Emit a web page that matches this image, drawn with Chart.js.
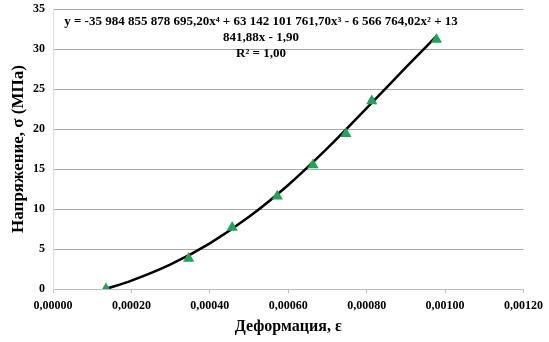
<!DOCTYPE html>
<html>
<head>
<meta charset="utf-8">
<script src="https://cdn.jsdelivr.net/npm/chart.js@4.4.1/dist/chart.umd.min.js"></script>
<style>
  html, body { margin: 0; padding: 0; background: #fff; }
  #wrap { width: 549px; height: 342px; }
</style>
</head>
<body>
<div id="wrap"><canvas id="chart" width="549" height="342"></canvas></div>
<script>
// measured points (strain, stress)
var strain = [0.000135, 0.000346, 0.000457, 0.000572, 0.000663, 0.000747, 0.000813, 0.000978];
var stress = [0.0, 3.8, 7.7, 11.6, 15.5, 19.4, 23.5, 31.2];

// trend line
var trendX = [0.000135, 0.0002, 0.0003, 0.0004, 0.0005, 0.0006, 0.0007, 0.0008, 0.0009, 0.000978];
var trendY = [0.0, 1.05, 3.08, 5.71, 9.02, 13.0, 17.6, 22.6, 27.7, 31.6];

var xTicks = [0, 0.0002, 0.0004, 0.0006, 0.0008, 0.001, 0.0012];
var yTicks = [0, 5, 10, 15, 20, 25, 30, 35];

var eqLines = [
  'y = -35 984 855 878 695,20x\u2074 + 63 142 101 761,70x\u00B3 - 6 566 764,02x\u00B2 + 13',
  '841,88x - 1,90',
  'R\u00B2 = 1,00'
];

var FONT = '"Liberation Serif", "Times New Roman", serif';

var pts = strain.map(function(v, i) { return {x: v, y: stress[i]}; });
var trend = trendX.map(function(v, i) { return {x: v, y: trendY[i]}; });

var eqPlugin = {
  id: 'eq',
  afterDraw: function(chart) {
    var c = chart.ctx;
    c.save();
    c.font = 'bold 13px ' + FONT;
    c.fillStyle = '#000';
    c.textAlign = 'center';
    c.textBaseline = 'middle';
    c.fillText(eqLines[0], 261, 22);
    c.fillText(eqLines[1], 261, 38);
    c.fillText(eqLines[2], 261, 54);
    c.restore();
  }
};

var chart = new Chart(document.getElementById('chart'), {
  type: 'scatter',
  data: {
    datasets: [{
      label: 'trend',
      data: trend,
      showLine: true,
      borderColor: '#000',
      borderWidth: 2.5,
      pointRadius: 0,
      cubicInterpolationMode: 'monotone',
      order: 2
    }, {
      label: 'data',
      data: pts,
      pointStyle: 'triangle',
      pointRadius: 6.5,
      backgroundColor: '#23a05a',
      borderColor: '#23a05a',
      borderWidth: 0,
      order: 1
    }]
  },
  options: {
    responsive: false,
    animation: false,
    layout: { padding: { top: 9, right: 21, left: 4, bottom: 0 } },
    plugins: {
      legend: { display: false },
      tooltip: { enabled: false }
    },
    scales: {
      x: {
        type: 'linear',
        min: 0,
        max: 0.0012,
        afterBuildTicks: function(axis) {
          axis.ticks = xTicks.map(function(v) { return {value: v}; });
        },
        afterFit: function(axis) { axis.height = 53; },
        ticks: {
          color: '#000',
          font: { family: FONT, size: 12, weight: 'bold' },
          padding: 6,
          maxRotation: 0,
          callback: function(v) { return v.toFixed(5).replace('.', ','); }
        },
        grid: { display: true, drawOnChartArea: false, drawTicks: true, tickLength: 4, color: '#bbb' },
        border: { color: '#bbb' },
        title: {
          display: true,
          text: 'Деформация, ε',
          color: '#000',
          font: { family: FONT, size: 16, weight: 'bold' },
          padding: { top: 2, bottom: 6 }
        }
      },
      y: {
        min: 0,
        max: 35,
        afterBuildTicks: function(axis) {
          axis.ticks = yTicks.map(function(v) { return {value: v}; });
        },
        afterFit: function(axis) { axis.width = 49; },
        ticks: {
          color: '#000',
          font: { family: FONT, size: 12, weight: 'bold', lineHeight: 0.1 },
          padding: 8
        },
        grid: { color: '#a8a8a8', drawTicks: false },
        border: { color: '#ddd' },
        title: {
          display: true,
          text: 'Напряжение, σ (МПа)',
          color: '#000',
          font: { family: FONT, size: 17, weight: 'bold' },
          padding: { bottom: 2 }
        }
      }
    }
  },
  plugins: [eqPlugin]
});
</script>
</body>
</html>
